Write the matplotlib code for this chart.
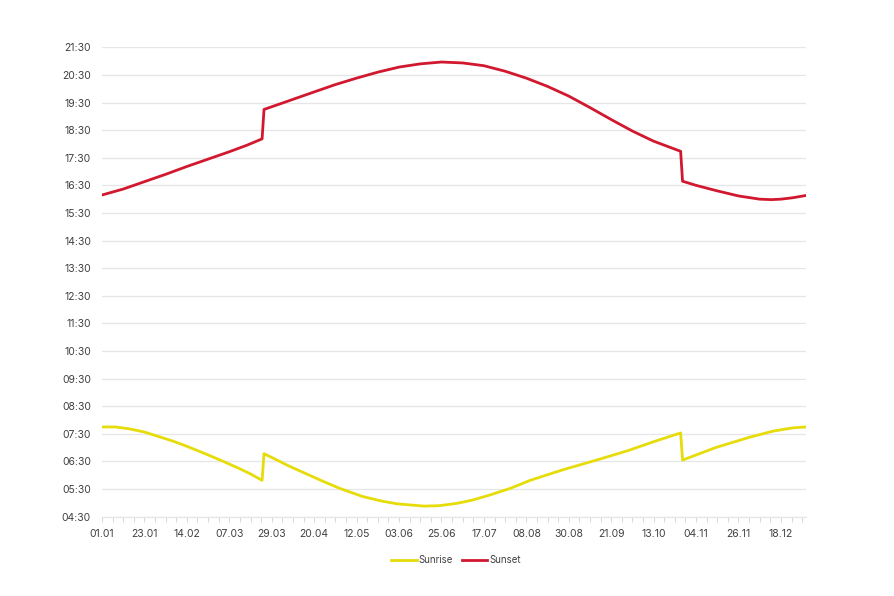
import numpy as np
import pandas as pd
import matplotlib
matplotlib.use("Agg")
import matplotlib.pyplot as plt

plt.rcParams['font.family'] = ['Inter', 'DejaVu Sans']

YEAR = 2024

# ---- data ----
sunset_dates = ["01.01", "12.01", "23.01", "03.02", "14.02", "25.02", "07.03", "16.03",
                "24.03", "25.03", "05.04", "20.04", "01.05", "12.05", "23.05", "03.06",
                "14.06", "25.06", "06.07", "17.07", "28.07", "08.08", "19.08", "30.08",
                "10.09", "21.09", "02.10", "13.10", "20.10", "27.10", "28.10", "04.11",
                "15.11", "26.11", "07.12", "13.12", "18.12", "24.12", "31.12"]
sunset_times = ["16:09", "16:22", "16:38", "16:54", "17:11", "17:27", "17:43", "17:57",
                "18:11", "19:15", "19:31", "19:53", "20:09", "20:23", "20:36", "20:47",
                "20:54", "20:58", "20:56", "20:50", "20:38", "20:23", "20:05", "19:44",
                "19:19", "18:53", "18:28", "18:06", "17:55", "17:44", "16:39", "16:30",
                "16:18", "16:07", "16:00", "15:59", "16:00", "16:03", "16:08"]

sunrise_dates = ["01.01", "08.01", "15.01", "23.01", "01.02", "07.02", "14.02", "24.02",
                 "04.03", "12.03", "18.03", "24.03", "25.03", "07.04", "24.04", "03.05",
                 "15.05", "25.05", "02.06", "16.06", "24.06", "03.07", "11.07", "20.07",
                 "31.07", "10.08", "27.08", "15.09", "30.09", "13.10", "27.10", "28.10",
                 "14.11", "02.12", "14.12", "24.12", "31.12"]
sunrise_times = ["07:45", "07:45", "07:41", "07:34", "07:22", "07:14", "07:03", "06:46",
                 "06:30", "06:15", "06:03", "05:49", "06:47", "06:20", "05:48", "05:32",
                 "05:14", "05:04", "04:58", "04:53", "04:54", "04:59", "05:06", "05:17",
                 "05:32", "05:49", "06:12", "06:35", "06:54", "07:13", "07:32", "06:33",
                 "07:00", "07:23", "07:36", "07:43", "07:45"]

x_tick_labels = ["01.01", "23.01", "14.02", "07.03", "29.03", "20.04", "12.05", "03.06",
                 "25.06", "17.07", "08.08", "30.08", "21.09", "13.10", "04.11", "26.11",
                 "18.12"]
y_tick_labels = ["04:30", "05:30", "06:30", "07:30", "08:30", "09:30", "10:30", "11:30",
                 "12:30", "13:30", "14:30", "15:30", "16:30", "17:30", "18:30", "19:30",
                 "20:30", "21:30"]
series_names = ["Sunrise", "Sunset"]


def day_index(s):
    d = pd.to_datetime(f"{s}.{YEAR}", format="%d.%m.%Y")
    return (d - pd.Timestamp(YEAR, 1, 1)).days


def hours(t):
    h, m = t.split(":")
    return int(h) + int(m) / 60.0


sr_x = [day_index(d) for d in sunrise_dates]
sr_y = [hours(t) for t in sunrise_times]
ss_x = [day_index(d) for d in sunset_dates]
ss_y = [hours(t) for t in sunset_times]

fig = plt.figure(figsize=(8.94, 5.96), dpi=100)
ax = fig.add_axes([102 / 894, 1 - 516.7 / 596, (806 - 102) / 894, (516.7 - 47.3) / 596])

c_sunrise = "#e6dc0a"
c_sunset = "#d2182e"
txt = "#404040"
grid_c = "#e6e6e6"

ax.plot(sr_x, sr_y, color=c_sunrise, lw=2.0, label=series_names[0], zorder=3)
ax.plot(ss_x, ss_y, color=c_sunset, lw=2.0, label=series_names[1], zorder=3)

ax.set_xlim(0, day_index("31.12"))
ax.set_ylim(hours("04:30"), hours("21:30"))

yt = [hours(t) for t in y_tick_labels]
ax.set_yticks(yt)
ax.set_yticklabels(y_tick_labels)
ax.yaxis.grid(True, color=grid_c, lw=0.9)
ax.tick_params(axis='y', length=0, pad=8, labelsize=7.5, labelcolor=txt)

xt = [day_index(d) for d in x_tick_labels]
ax.set_xticks(xt)
ax.set_xticklabels(x_tick_labels)
ax.set_xticks(np.arange(0, day_index("31.12") + 1, 5.5), minor=True)
ax.tick_params(axis='x', which='both', length=3.5, width=0.6, color="#d0d0d0",
               pad=5, labelsize=7.5, labelcolor=txt)

for s in ["top", "right", "left"]:
    ax.spines[s].set_visible(False)
ax.spines["bottom"].set_color(grid_c)
ax.spines["bottom"].set_linewidth(0.9)
ax.set_axisbelow(True)

fig.legend(loc="center", bbox_to_anchor=(456 / 894, 1 - 560 / 596), ncol=2,
           frameon=False, fontsize=7, handlelength=2.6, handletextpad=0.2,
           columnspacing=0.9, labelcolor=txt)

fig.savefig("out.png", dpi=100, facecolor="white")
